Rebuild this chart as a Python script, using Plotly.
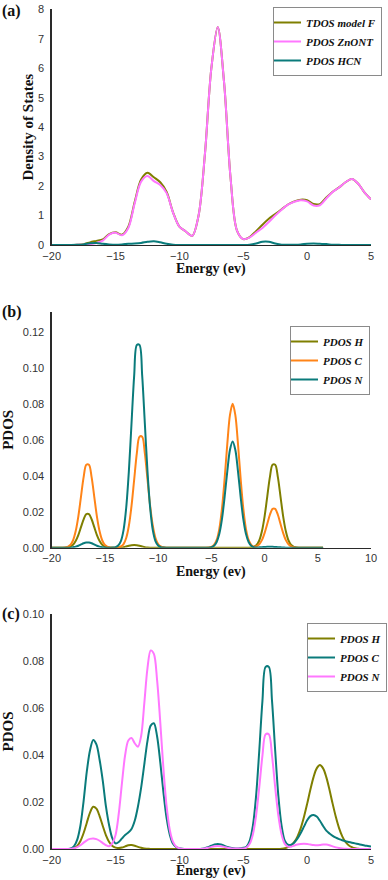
import numpy as np
import plotly.graph_objects as go

# ---------------- Panel (a): TDOS / PDOS, grid 0.5 eV ----------------
energy_a = np.round(np.arange(-20, 5.001, 0.5), 2).tolist()
tdos_model_f = [0, 0, 0, 0, 0.01, 0.03, 0.09, 0.14, 0.19, 0.37,
                0.43, 0.35, 0.62, 1.47, 2.22, 2.45, 2.30, 2.13, 1.80, 1.11,
                0.62, 0.46, 0.31, 1.0, 3.1, 6.0, 7.4, 5.5, 2.3, 0.5,
                0.2, 0.27, 0.47, 0.69, 0.89, 1.05, 1.21, 1.375, 1.48, 1.54,
                1.52, 1.39, 1.39, 1.61, 1.81, 1.955, 2.13, 2.24, 2.08, 1.78,
                1.55]
pdos_znont = [0, 0, 0, 0, 0.005, 0.01, 0.03, 0.07, 0.15, 0.35,
              0.42, 0.33, 0.58, 1.42, 2.15, 2.34, 2.17, 2.04, 1.76, 1.1,
              0.62, 0.46, 0.31, 1.0, 3.1, 6.0, 7.4, 5.5, 2.3, 0.5,
              0.2, 0.26, 0.42, 0.58, 0.78, 1.0, 1.2, 1.37, 1.47, 1.52,
              1.48, 1.34, 1.35, 1.58, 1.8, 1.95, 2.13, 2.24, 2.08, 1.78,
              1.55]
pdos_hcn = [0, 0, 0, 0, 0.005, 0.02, 0.06, 0.07, 0.04, 0.02,
            0.01, 0.02, 0.04, 0.05, 0.07, 0.11, 0.13, 0.09, 0.04, 0.01,
            0, 0, 0, 0, 0, 0, 0, 0, 0, 0,
            0, 0.01, 0.05, 0.11, 0.11, 0.05, 0.01, 0.005, 0.01, 0.02,
            0.04, 0.05, 0.04, 0.03, 0.01, 0.005, 0, 0, 0, 0,
            0]

# ---------------- Panel (b): PDOS H / C / N, grid 0.25 eV ----------------
energy_b = np.round(np.arange(-20, 5.501, 0.25), 2).tolist()
b_pdos_h = [0, 0, 0, 0,
            0, 0, 0.0002, 0.0006,
            0.0016, 0.0037, 0.0070, 0.0114,
            0.0158, 0.0186, 0.0186, 0.0158,
            0.0114, 0.0070, 0.0037, 0.0016,
            0.0006, 0.0002, 0, 0,
            0, 0, 0.0001, 0.0003,
            0.0007, 0.0011, 0.0014, 0.0015,
            0.0014, 0.0011, 0.0007, 0.0003,
            0.0001, 0, 0, 0,
            0, 0, 0, 0,
            0, 0, 0, 0,
            0, 0, 0, 0,
            0, 0, 0, 0,
            0, 0, 0, 0,
            0, 0, 0, 0,
            0, 0, 0, 0,
            0, 0, 0, 0,
            0, 0, 0, 0.0001,
            0.0005, 0.0015, 0.0040, 0.0091,
            0.0173, 0.0283, 0.0392, 0.0461,
            0.0461, 0.0392, 0.0283, 0.0173,
            0.0091, 0.0040, 0.0015, 0.0005,
            0.0001, 0, 0, 0,
            0, 0, 0, 0,
            0, 0, 0]
b_pdos_c = [0, 0, 0, 0,
            0, 0.0001, 0.0005, 0.0015,
            0.0040, 0.0091, 0.0173, 0.0283,
            0.0392, 0.0461, 0.0461, 0.0392,
            0.0283, 0.0173, 0.0091, 0.0040,
            0.0015, 0.0005, 0.0001, 0,
            0, 0.0002, 0.0007, 0.0020,
            0.0054, 0.0122, 0.0232, 0.0379,
            0.0525, 0.0617, 0.0617, 0.0525,
            0.0379, 0.0232, 0.0122, 0.0054,
            0.0020, 0.0007, 0.0002, 0,
            0, 0, 0, 0,
            0, 0, 0, 0,
            0, 0, 0, 0,
            0, 0, 0, 0.0001,
            0.0004, 0.0015, 0.0043, 0.0105,
            0.0218, 0.0385, 0.0578, 0.0738,
            0.0800, 0.0738, 0.0578, 0.0385,
            0.0218, 0.0105, 0.0043, 0.0015,
            0.0006, 0.0008, 0.0019, 0.0042,
            0.0081, 0.0132, 0.0183, 0.0216,
            0.0216, 0.0183, 0.0132, 0.0081,
            0.0042, 0.0019, 0.0007, 0.0002,
            0, 0, 0, 0,
            0, 0, 0, 0,
            0, 0, 0]
b_pdos_n = [0, 0, 0, 0,
            0, 0, 0, 0,
            0.0003, 0.0006, 0.0011, 0.0018,
            0.0025, 0.0029, 0.0029, 0.0025,
            0.0018, 0.0011, 0.0006, 0.0003,
            0.0001, 0, 0, 0.0001,
            0.0003, 0.0012, 0.0037, 0.0098,
            0.0222, 0.0424, 0.0692, 0.0958,
            0.1127, 0.1127, 0.0958, 0.0692,
            0.0424, 0.0222, 0.0098, 0.0037,
            0.0012, 0.0003, 0.0001, 0,
            0, 0, 0, 0,
            0, 0, 0, 0,
            0, 0, 0, 0,
            0, 0, 0, 0,
            0.0003, 0.0011, 0.0032, 0.0077,
            0.0160, 0.0284, 0.0426, 0.0544,
            0.0590, 0.0544, 0.0426, 0.0284,
            0.0160, 0.0077, 0.0032, 0.0011,
            0.0003, 0.0001, 0.0002, 0.0003,
            0.0004, 0.0005, 0.0005, 0.0005,
            0.0004, 0.0003, 0.0002, 0.0001,
            0, 0, 0, 0,
            0, 0, 0, 0,
            0, 0, 0, 0,
            0, 0, 0]

# ---------------- Panel (c): PDOS H / C / N, grid 0.25 eV ----------------
energy_c = np.round(np.arange(-20, 5.001, 0.25), 2).tolist()
c_pdos_h = [0, 0, 0, 0,
            0, 0, 0.0001, 0.0004,
            0.0013, 0.0034, 0.0068, 0.0112,
            0.0155, 0.0180, 0.0172, 0.0140,
            0.0098, 0.0058, 0.0030, 0.0013,
            0.0006, 0.0004, 0.0006, 0.0011,
            0.0016, 0.0017, 0.0014, 0.0009,
            0.0005, 0.0002, 0.0001, 0,
            0, 0, 0, 0,
            0, 0, 0, 0,
            0, 0, 0, 0,
            0, 0, 0, 0,
            0, 0, 0, 0,
            0, 0, 0, 0,
            0, 0, 0, 0,
            0, 0, 0, 0,
            0, 0, 0, 0,
            0, 0, 0, 0,
            0.0001, 0.0003, 0.0008, 0.0016,
            0.0030, 0.0054, 0.0089, 0.0136,
            0.0192, 0.0252, 0.0306, 0.0343,
            0.0357, 0.0343, 0.0306, 0.0252,
            0.0192, 0.0136, 0.0089, 0.0054,
            0.0030, 0.0016, 0.0008, 0.0003,
            0.0001, 0, 0, 0,
            0]
c_pdos_c = [0, 0, 0, 0,
            0, 0, 0.0002, 0.0012,
            0.0040, 0.0100, 0.0205, 0.0330,
            0.0420, 0.0464, 0.0445, 0.0380,
            0.0290, 0.0180, 0.0100, 0.0045,
            0.0024, 0.0030, 0.0045, 0.0060,
            0.0070, 0.0085, 0.0120, 0.0180,
            0.0260, 0.0360, 0.0460, 0.0525,
            0.0535, 0.0480, 0.0370, 0.0240,
            0.0130, 0.0060, 0.0022, 0.0008,
            0.0003, 0.0001, 0, 0,
            0, 0, 0, 0.0001,
            0.0003, 0.0008, 0.0014, 0.0019,
            0.0021, 0.0019, 0.0014, 0.0009,
            0.0005, 0.0003, 0.0002, 0.0003,
            0.0005, 0.0010, 0.0035, 0.0098,
            0.0224, 0.0417, 0.0630, 0.0775,
            0.0775, 0.0630, 0.0417, 0.0224,
            0.0098, 0.0035, 0.0018, 0.0018,
            0.0028, 0.0045, 0.0068, 0.0095,
            0.0122, 0.0140, 0.0145, 0.0138,
            0.0120, 0.0098, 0.0078, 0.0066,
            0.0056, 0.0048, 0.0042, 0.0037,
            0.0033, 0.0030, 0.0027, 0.0024,
            0.0021, 0.0018, 0.0015, 0.0013,
            0.0011]
c_pdos_n = [0, 0, 0, 0,
            0, 0, 0.0001, 0.0003,
            0.0008, 0.0016, 0.0027, 0.0037,
            0.0043, 0.0045, 0.0042, 0.0035,
            0.0025, 0.0016, 0.0012, 0.0025,
            0.0060, 0.0150, 0.0280, 0.0400,
            0.0462, 0.0472, 0.0450, 0.0435,
            0.0480, 0.0620, 0.0770, 0.0845,
            0.0830, 0.0720, 0.0540, 0.0340,
            0.0180, 0.0080, 0.0030, 0.0010,
            0.0003, 0, 0, 0,
            0, 0, 0, 0,
            0.0002, 0.0005, 0.0009, 0.0012,
            0.0013, 0.0012, 0.0009, 0.0005,
            0.0003, 0.0002, 0.0002, 0.0002,
            0.0002, 0.0006, 0.0022, 0.0062,
            0.0141, 0.0262, 0.0397, 0.0488,
            0.0488, 0.0397, 0.0262, 0.0141,
            0.0062, 0.0022, 0.0010, 0.0010,
            0.0015, 0.0019, 0.0021, 0.0022,
            0.0021, 0.0019, 0.0017, 0.0016,
            0.0017, 0.0019, 0.0019, 0.0016,
            0.0011, 0.0007, 0.0004, 0.0002,
            0.0001, 0, 0, 0,
            0, 0, 0, 0,
            0]

assert len(tdos_model_f) == len(pdos_znont) == len(pdos_hcn) == len(energy_a)
assert len(b_pdos_h) == len(b_pdos_c) == len(b_pdos_n) == len(energy_b)
assert len(c_pdos_h) == len(c_pdos_c) == len(c_pdos_n) == len(energy_c)

OLIVE = "#7f7f00"
PINK = "#ff77ff"
TEAL = "#0a7b7b"
ORANGE = "#ff8418"

W, H = 388, 880
fig = go.Figure()


def add(x, y, name, color, n, legend):
    fig.add_trace(go.Scatter(
        x=x, y=y, name=name, mode="lines",
        line=dict(color=color, width=2, shape="spline", smoothing=0.9),
        xaxis="x" if n == 1 else f"x{n}", yaxis="y" if n == 1 else f"y{n}",
        legend=legend, hoverinfo="skip"))


add(energy_a, tdos_model_f, "TDOS model F", OLIVE, 1, "legend")
add(energy_a, pdos_znont, "PDOS ZnONT", PINK, 1, "legend")
add(energy_a, pdos_hcn, "PDOS HCN", TEAL, 1, "legend")
add(energy_b, b_pdos_h, "PDOS H", OLIVE, 2, "legend2")
add(energy_b, b_pdos_c, "PDOS C", ORANGE, 2, "legend2")
add(energy_b, b_pdos_n, "PDOS N", TEAL, 2, "legend2")
add(energy_c, c_pdos_h, "PDOS H", OLIVE, 3, "legend3")
add(energy_c, c_pdos_c, "PDOS C", TEAL, 3, "legend3")
add(energy_c, c_pdos_n, "PDOS N", PINK, 3, "legend3")

SERIF = "Liberation Serif, Times New Roman, serif"
SANS = "Liberation Sans, Arial, sans-serif"
tickfont = dict(family=SANS, size=11, color="#333333")
titlefont = dict(family=SERIF, size=15, color="#111111", weight="bold")
xtitlefont = dict(family=SERIF, size=14, color="#111111", weight="bold")
X0, X1 = 51.7, 371.0
xdom = [X0 / W, X1 / W]

# pixel rows of each panel's x axis (bottom), top of y axis
panels = {1: (245.0, 9.3), 2: (547.7, 312.0), 3: (849.0, 614.0)}


def xax(rng, anchor):
    return dict(domain=xdom, anchor=anchor, range=rng, dtick=5, tick0=0,
                showline=True, linecolor="#2a2a2a", linewidth=1.3,
                ticks="", showgrid=False, zeroline=False, tickfont=tickfont,
                ticklabelstandoff=0)


def yax(n, rng, dtick, fmt, title, standoff):
    bot, top = panels[n]
    return dict(domain=[1 - bot / H, 1 - top / H],
                anchor="x" if n == 1 else f"x{n}", range=rng, dtick=dtick,
                tick0=0, tickformat=fmt, showline=True, linecolor="#2a2a2a",
                linewidth=1.3, ticks="", showgrid=False, zeroline=False,
                tickfont=tickfont, ticklabelstandoff=4,
                title=dict(text=title, font=titlefont, standoff=standoff))


def leg(x0, y0):
    return dict(x=x0 / W, y=1 - y0 / H, xanchor="left", yanchor="top",
                bgcolor="white", bordercolor="#8a8a8a", borderwidth=1,
                font=dict(family=SERIF, size=11, color="#111111",
                          style="italic", weight="bold"),
                indentation=-8, itemwidth=30)


fig.update_layout(
    width=W, height=H, autosize=False,
    paper_bgcolor="white", plot_bgcolor="white",
    margin=dict(l=0, r=0, t=0, b=0, pad=0, autoexpand=False),
    xaxis=xax([-20, 5], "y"),
    yaxis=yax(1, [0, 8], 1, "d", "Density of States", 0),
    xaxis2=xax([-20, 10], "y2"),
    yaxis2=yax(2, [0, 0.131], 0.02, ".2f", "PDOS", 6),
    xaxis3=xax([-20, 5], "y3"),
    yaxis3=yax(3, [0, 0.1], 0.02, ".2f", "PDOS", 6),
    legend=leg(273, 7),
    legend2=leg(290, 326),
    legend3=leg(307, 623),
    showlegend=True,
)

# x-axis titles (as annotations so the bottom one is not pushed up)
for n, (bot, top) in panels.items():
    if n == 3:
        ypos, anch = 0.0, "bottom"
    else:
        ypos, anch = 1 - (bot + 24) / H, "middle"
    fig.add_annotation(text="Energy (ev)", xref="paper", yref="paper",
                       x=(X0 + X1) / 2 / W, y=ypos,
                       xanchor="center", yanchor=anch, showarrow=False,
                       font=xtitlefont, borderpad=0)

for label, ypx in (("(a)", 11), ("(b)", 312), ("(c)", 614)):
    fig.add_annotation(text=label, xref="paper", yref="paper", x=0,
                       y=1 - ypx / H, xanchor="left", yanchor="middle",
                       showarrow=False,
                       font=dict(family=SERIF, size=16, color="#111111",
                                 weight="bold"))

fig.write_html(
    "out.html",
    config={"displayModeBar": False, "staticPlot": True},
    post_script="document.body.style.margin='0';"
                "document.body.style.overflow='hidden';")
